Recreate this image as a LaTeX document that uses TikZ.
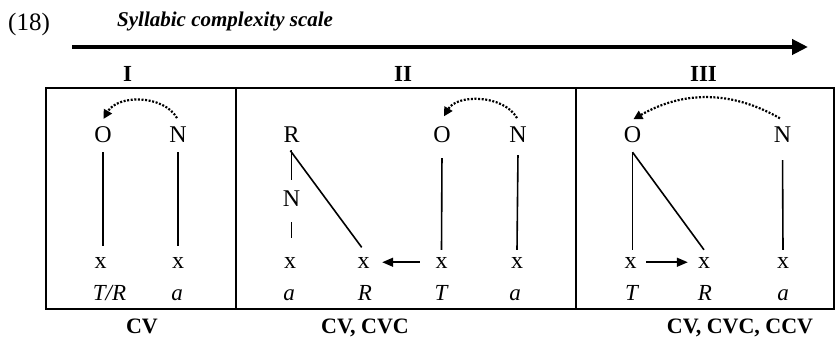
\documentclass[tikz,border=0pt]{standalone}
\usepackage{fontspec}
\setmainfont{Liberation Serif}
\usetikzlibrary{arrows.meta}
\begin{document}
\begin{tikzpicture}[x=1pt,y=1pt,
  seg/.style={text height=14pt,text depth=0pt,inner xsep=1pt,inner ysep=9pt,anchor=base,font=\fontsize{24}{28}\selectfont},
  slot/.style={text height=9.5pt,text depth=0pt,inner xsep=2pt,inner ysep=9.5pt,anchor=base,font=\fontsize{24}{28}\selectfont},
  gloss/.style={anchor=base,inner sep=0pt,font=\fontsize{23}{27}\selectfont\itshape},
  tag/.style={anchor=base,inner sep=0pt,font=\fontsize{22}{26}\selectfont\bfseries},
  level/.style={anchor=base,inner sep=0pt,font=\fontsize{23}{27}\selectfont\bfseries},
  assoc/.style={line width=1.6pt},
  push/.style={line width=1.6pt,-{Triangle[length=11pt,width=9pt]}},
  spread/.style={line width=2.2pt,dash pattern=on 2pt off 1.6pt,-{Triangle[length=9pt,width=9pt]}},
  frame/.style={line width=2.2pt}
]
\useasboundingbox (0,0) rectangle (835,340);

% header
\node[anchor=base west,inner sep=0pt,font=\fontsize{25}{30}\selectfont] (num) at (8,309) {(18)};
\node[anchor=base west,inner sep=0pt,font=\fontsize{21}{25}\selectfont\bfseries\itshape] (title) at (117,313) {Syllabic complexity scale};
\coordinate (sA) at (72,293);
\coordinate (sB) at (808,293);
\draw[line width=4pt,-{Triangle[length=16pt,width=15pt]}] (sA) -- (sB);

% frame
\draw[frame] (46,31) rectangle (834,252);
\draw[frame] (236,31) -- (236,252);
\draw[frame] (576,31) -- (576,252);

% levels
\node[level] (l1) at (127.5,258) {I};
\node[level] (l2) at (403,258) {II};
\node[level] (l3) at (703.5,258) {III};

% panel I
\node[seg] (o1) at (103,197) {O};
\node[seg] (n1) at (178,197) {N};
\node[slot] (x11) at (100.5,71) {x};
\node[slot] (x12) at (178,71) {x};
\node[gloss] (g11) at (109.5,39) {T/R};
\node[gloss] (g12) at (177,39) {a};
\draw[assoc,shorten >=4pt] (o1.south) -- (o1.south |- x11.north);
\draw[assoc,shorten >=4pt] (n1.south) -- (x12.north);
\draw[spread,shorten <=2pt,shorten >=1pt] (n1.north) to[out=120,in=60] (o1.north);

% panel II
\node[seg] (r2) at (291.5,197) {R};
\node[seg] (n2a) at (291.5,133) {N};
\node[seg] (o2) at (442,197) {O};
\node[seg] (n2) at (518,197) {N};
\node[slot] (x21) at (290,71) {x};
\node[slot] (x22) at (363.5,71) {x};
\node[slot] (x23) at (441.5,71) {x};
\node[slot] (x24) at (517,71) {x};
\node[gloss] (g21) at (289,39) {a};
\node[gloss] (g22) at (365,39) {R};
\node[gloss] (g23) at (441,39) {T};
\node[gloss] (g24) at (515,39) {a};
\draw[assoc,shorten <=-2pt,shorten >=4pt] (r2.south) -- (n2a.north);
\draw[assoc,shorten <=6pt,shorten >=12pt] (n2a.south) -- (n2a.south |- x21.north);
\draw[assoc,shorten <=-2pt,shorten >=3pt] (r2.south) -- (x22.north);
\draw[assoc,shorten <=6pt] (o2.south) -- (x23.north);
\draw[assoc,shorten <=3pt] (n2.south) -- (x24.north);
\draw[push,shorten <=13.5pt,shorten >=10.5pt] ([yshift=2pt]x23.west) -- ([yshift=2pt]x22.east);
\draw[spread,shorten <=2pt,shorten >=4pt] (n2.north) to[out=120,in=60] (o2.north);

% panel III
\node[seg] (o3) at (632.5,197) {O};
\node[seg] (n3) at (782.5,197) {N};
\node[slot] (x31) at (630.5,71) {x};
\node[slot] (x32) at (704,71) {x};
\node[slot] (x33) at (783,71) {x};
\node[gloss] (g31) at (631.5,39) {T};
\node[gloss] (g32) at (705,39) {R};
\node[gloss] (g33) at (783,39) {a};
\draw[assoc] (o3.south) -- (o3.south |- x31.north);
\draw[assoc] (o3.south) -- (x32.north);
\draw[assoc,shorten <=8pt] (n3.south) -- (x33.north);
\draw[push,shorten <=7.5pt,shorten >=8pt] ([yshift=2pt]x31.east) -- ([yshift=2pt]x32.west);
\draw[spread,shorten <=3pt,shorten >=1pt] (n3.north) to[out=150,in=30] (o3.north);

% bottom tags
\node[tag] (t1) at (142,7) {CV};
\node[tag] (t2) at (365,7) {CV, CVC};
\node[tag] (t3) at (740,7) {CV, CVC, CCV};
\end{tikzpicture}
\end{document}
